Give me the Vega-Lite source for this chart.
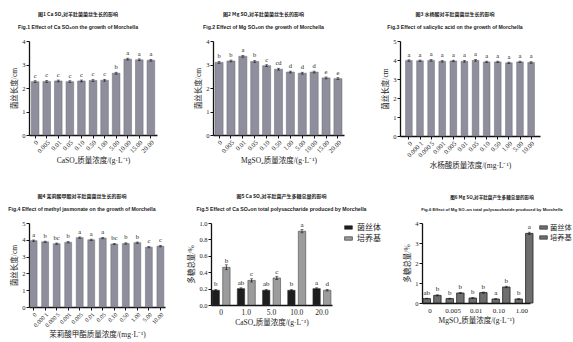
{
  "$schema": "https://vega.github.io/schema/vega-lite/v6.json",
  "background": "white",
  "padding": {"left": 8, "top": 11, "right": 0, "bottom": 0},
  "config": {
    "view": {"stroke": null},
    "font": "Liberation Serif, Noto Sans CJK SC",
    "axis": {
      "grid": false, "domainColor": "#111", "domainWidth": 1.3, "tickColor": "#111", "tickSize": 3, "tickWidth": 1,
      "labelFont": "Liberation Serif, Noto Sans CJK SC", "labelFontSize": 6.5, "labelColor": "#222", "labelPadding": 1,
      "titleFont": "Liberation Serif, Noto Sans CJK SC", "titleFontSize": 7.5, "titleFontWeight": "normal", "titleColor": "#222", "titlePadding": 3
    },
    "axisX": {"labelAngle": -45},
    "title": {"font": "Noto Sans CJK SC", "fontSize": 5, "fontWeight": "bold", "color": "#222", "subtitleFont": "Liberation Sans, Noto Sans CJK SC", "subtitleFontSize": 5.2, "subtitleFontWeight": "bold", "subtitleColor": "#222", "subtitlePadding": 8, "offset": 8, "anchor": "middle", "dx": -15},
    "legend": {"title": null, "labelFont": "Liberation Serif, Noto Sans CJK SC", "labelFontSize": 8, "labelColor": "#222", "symbolType": "M-1,-0.45H1V0.45H-1Z", "symbolSize": 60, "symbolStrokeColor": "#222", "symbolStrokeWidth": 0.6, "rowPadding": 2, "offset": 12, "padding": 0}
  },
  "spacing": 24,
  "vconcat": [
    {
      "spacing": 37,
      "hconcat": [
        {
          "width": 128, "height": 94,
          "title": {"text": "图1 Ca SO₄对羊肚菌菌丝生长的影响", "subtitle": "Fig.1 Effect of Ca SO₄on the growth of Morchella"},
          "data": {"values": [
            {"c": "0", "v": 2.27, "e": 0.04, "l": "c"},
            {"c": "0.005", "v": 2.28, "e": 0.04, "l": "c"},
            {"c": "0.01", "v": 2.3, "e": 0.04, "l": "c"},
            {"c": "0.05", "v": 2.27, "e": 0.04, "l": "c"},
            {"c": "0.10", "v": 2.3, "e": 0.04, "l": "c"},
            {"c": "0.50", "v": 2.32, "e": 0.04, "l": "c"},
            {"c": "1.00", "v": 2.33, "e": 0.04, "l": "c"},
            {"c": "5.00", "v": 2.63, "e": 0.04, "l": "b"},
            {"c": "10.00", "v": 3.23, "e": 0.04, "l": "a"},
            {"c": "15.00", "v": 3.2, "e": 0.04, "l": "a"},
            {"c": "20.00", "v": 3.18, "e": 0.04, "l": "a"}
          ]},
          "encoding": {
            "x": {"field": "c", "type": "ordinal", "sort": null, "title": "CaSO₄质量浓度/(g·L⁻¹)", "scale": {"paddingInner": 0.34, "paddingOuter": 0.2}},
            "y": {"field": "v", "type": "quantitative", "title": "菌丝长度/cm", "scale": {"domain": [0, 4]}, "axis": {"values": [0, 1, 2, 3, 4]}}
          },
          "layer": [
            {"mark": {"type": "bar", "color": "#8e8e9c", "stroke": "#6b6b78", "strokeWidth": 0.5}},
            {"mark": {"type": "errorbar", "ticks": {"size": 3}, "color": "#111", "thickness": 0.7}, "encoding": {"yError": {"field": "e"}}},
            {"mark": {"type": "text", "dy": -6, "fontSize": 6.5, "color": "#222"}, "encoding": {"text": {"field": "l"}}}
          ]
        },
        {
          "width": 131, "height": 94,
          "title": {"text": "图2 Mg SO₄对羊肚菌菌丝生长的影响", "subtitle": "Fig.2 Effect of Mg SO₄on the growth of Morchella"},
          "data": {"values": [
            {"c": "0", "v": 3.09, "e": 0.04, "l": "b"},
            {"c": "0.005", "v": 3.15, "e": 0.04, "l": "b"},
            {"c": "0.01", "v": 3.35, "e": 0.04, "l": "a"},
            {"c": "0.05", "v": 3.13, "e": 0.04, "l": "b"},
            {"c": "0.10", "v": 2.95, "e": 0.04, "l": "c"},
            {"c": "0.50", "v": 2.8, "e": 0.04, "l": "cd"},
            {"c": "1.00", "v": 2.68, "e": 0.04, "l": "d"},
            {"c": "5.00", "v": 2.63, "e": 0.04, "l": "d"},
            {"c": "10.00", "v": 2.68, "e": 0.04, "l": "d"},
            {"c": "15.00", "v": 2.43, "e": 0.04, "l": "e"},
            {"c": "20.00", "v": 2.4, "e": 0.04, "l": "e"}
          ]},
          "encoding": {
            "x": {"field": "c", "type": "ordinal", "sort": null, "title": "MgSO₄质量浓度/(g·L⁻¹)", "scale": {"paddingInner": 0.32, "paddingOuter": 0.17}},
            "y": {"field": "v", "type": "quantitative", "title": "菌丝长度/cm", "scale": {"domain": [0, 4]}, "axis": {"values": [0, 1, 2, 3, 4]}}
          },
          "layer": [
            {"mark": {"type": "bar", "color": "#8e8e9c", "stroke": "#6b6b78", "strokeWidth": 0.5}},
            {"mark": {"type": "errorbar", "ticks": {"size": 3}, "color": "#111", "thickness": 0.7}, "encoding": {"yError": {"field": "e"}}},
            {"mark": {"type": "text", "dy": -6, "fontSize": 6.5, "color": "#222"}, "encoding": {"text": {"field": "l"}}}
          ]
        },
        {
          "width": 140, "height": 95,
          "title": {"text": "图3 水杨酸对羊肚菌菌丝生长的影响", "subtitle": "Fig.3 Effect of salicylic acid on the growth of Morchella"},
          "data": {"values": [
            {"c": "0", "v": 3.97, "e": 0.04, "l": "a"},
            {"c": "0.000 1", "v": 3.96, "e": 0.04, "l": "a"},
            {"c": "0.000 5", "v": 3.98, "e": 0.04, "l": "a"},
            {"c": "0.001", "v": 3.93, "e": 0.04, "l": "a"},
            {"c": "0.005", "v": 3.95, "e": 0.04, "l": "a"},
            {"c": "0.01", "v": 3.93, "e": 0.04, "l": "a"},
            {"c": "0.05", "v": 3.98, "e": 0.04, "l": "a"},
            {"c": "0.10", "v": 3.9, "e": 0.04, "l": "a"},
            {"c": "0.50", "v": 3.9, "e": 0.04, "l": "a"},
            {"c": "1.00", "v": 3.85, "e": 0.04, "l": "a"},
            {"c": "5.00", "v": 3.9, "e": 0.04, "l": "a"},
            {"c": "10.00", "v": 3.87, "e": 0.04, "l": "a"}
          ]},
          "encoding": {
            "x": {"field": "c", "type": "ordinal", "sort": null, "title": "水杨酸质量浓度/(mg·L⁻¹)", "scale": {"paddingInner": 0.4, "paddingOuter": 0.5}},
            "y": {"field": "v", "type": "quantitative", "title": "菌丝长度/cm", "scale": {"domain": [0, 5]}, "axis": {"values": [0, 1, 2, 3, 4, 5]}}
          },
          "layer": [
            {"mark": {"type": "bar", "color": "#8e8e9c", "stroke": "#6b6b78", "strokeWidth": 0.5}},
            {"mark": {"type": "errorbar", "ticks": {"size": 3}, "color": "#111", "thickness": 0.7}, "encoding": {"yError": {"field": "e"}}},
            {"mark": {"type": "text", "dy": -6, "fontSize": 6.5, "color": "#222"}, "encoding": {"text": {"field": "l"}}}
          ]
        }
      ]
    },
    {
      "spacing": 22,
      "hconcat": [
        {
          "width": 136, "height": 84,
          "title": {"text": "图4 茉莉酸甲酯对羊肚菌菌丝生长的影响", "subtitle": "Fig.4 Effect of methyl jasmonate on the growth of Morchella"},
          "data": {"values": [
            {"c": "0", "v": 3.95, "e": 0.04, "l": "a"},
            {"c": "0.000 1", "v": 3.88, "e": 0.04, "l": "b"},
            {"c": "0.000 5", "v": 3.77, "e": 0.04, "l": "bc"},
            {"c": "0.001", "v": 3.85, "e": 0.04, "l": "b"},
            {"c": "0.005", "v": 4.13, "e": 0.04, "l": "a"},
            {"c": "0.01", "v": 4.0, "e": 0.04, "l": "a"},
            {"c": "0.05", "v": 4.1, "e": 0.04, "l": "a"},
            {"c": "0.10", "v": 3.75, "e": 0.04, "l": "bc"},
            {"c": "0.50", "v": 3.78, "e": 0.04, "l": "b"},
            {"c": "1.00", "v": 3.83, "e": 0.04, "l": "b"},
            {"c": "5.00", "v": 3.56, "e": 0.04, "l": "c"},
            {"c": "10.00", "v": 3.62, "e": 0.04, "l": "c"}
          ]},
          "encoding": {
            "x": {"field": "c", "type": "ordinal", "sort": null, "title": "茉莉酸甲酯质量浓度/(mg·L⁻¹)", "axis": {"labelFontSize": 6}, "scale": {"paddingInner": 0.4, "paddingOuter": 0.1}},
            "y": {"field": "v", "type": "quantitative", "title": "菌丝长度/cm", "scale": {"domain": [0, 5]}, "axis": {"values": [0, 1, 2, 3, 4, 5]}}
          },
          "layer": [
            {"mark": {"type": "bar", "color": "#8e8e9c", "stroke": "#6b6b78", "strokeWidth": 0.5}},
            {"mark": {"type": "errorbar", "ticks": {"size": 3}, "color": "#111", "thickness": 0.7}, "encoding": {"yError": {"field": "e"}}},
            {"mark": {"type": "text", "dy": -6, "fontSize": 6.5, "color": "#222"}, "encoding": {"text": {"field": "l"}}}
          ]
        },
        {
          "width": 121, "height": 82,
          "title": {"text": "图5 Ca SO₄对羊肚菌产生多糖总量的影响", "subtitle": "Fig.5 Effect of Ca SO₄on total polysaccharide produced by Morchella", "dx": 10},
          "data": {"values": [
            {"c": "0", "s": "菌丝体", "v": 0.18, "e": 0.01, "l": "b"},
            {"c": "0", "s": "培养基", "v": 0.46, "e": 0.03, "l": "b"},
            {"c": "1.0", "s": "菌丝体", "v": 0.2, "e": 0.01, "l": "ab"},
            {"c": "1.0", "s": "培养基", "v": 0.3, "e": 0.02, "l": "c"},
            {"c": "5.0", "s": "菌丝体", "v": 0.18, "e": 0.01, "l": "ab"},
            {"c": "5.0", "s": "培养基", "v": 0.33, "e": 0.02, "l": "c"},
            {"c": "10.0", "s": "菌丝体", "v": 0.18, "e": 0.01, "l": "b"},
            {"c": "10.0", "s": "培养基", "v": 0.9, "e": 0.02, "l": "a"},
            {"c": "20.0", "s": "菌丝体", "v": 0.2, "e": 0.01, "l": "a"},
            {"c": "20.0", "s": "培养基", "v": 0.18, "e": 0.01, "l": "d"}
          ]},
          "encoding": {
            "x": {"field": "c", "type": "ordinal", "sort": null, "title": "CaSO₄质量浓度/(g·L⁻¹)", "axis": {"labelAngle": 0, "labelFontSize": 7.5, "ticks": false, "labelPadding": 3}, "scale": {"paddingInner": 0.2, "paddingOuter": 0}},
            "xOffset": {"field": "s", "type": "nominal", "sort": ["菌丝体", "培养基"], "scale": {"paddingInner": 0.3, "paddingOuter": 0.1}},
            "y": {"field": "v", "type": "quantitative", "title": "多糖总量/%", "scale": {"domain": [0, 1]}, "axis": {"values": [0, 0.2, 0.4, 0.6, 0.8, 1.0], "format": ".1f"}}
          },
          "layer": [
            {"mark": {"type": "bar", "stroke": "#333", "strokeWidth": 0.5}, "encoding": {"color": {"field": "s", "type": "nominal", "sort": ["菌丝体", "培养基"], "scale": {"domain": ["菌丝体", "培养基"], "range": ["#1e1e1e", "#9c9c9c"]}, "legend": {"offset": 12}}}},
            {"mark": {"type": "errorbar", "ticks": {"size": 3}, "color": "#111", "thickness": 0.7}, "encoding": {"yError": {"field": "e"}}},
            {"mark": {"type": "text", "dy": -6, "fontSize": 7, "color": "#222"}, "encoding": {"text": {"field": "l"}}}
          ]
        },
        {
          "width": 108, "height": 80,
          "title": {"text": "图6 Mg SO₄对羊肚菌产生多糖总量的影响", "subtitle": "Fig.6 Effect of Mg SO₄on total polysaccharide produced by Morchella", "dx": 16, "fontSize": 4.6, "subtitleFontSize": 4.3},
          "data": {"values": [
            {"c": "0", "s": "菌丝体", "v": 0.22, "e": 0.02, "l": "ab"},
            {"c": "0", "s": "培养基", "v": 0.38, "e": 0.03, "l": "b"},
            {"c": "0.005", "s": "菌丝体", "v": 0.22, "e": 0.02, "l": "b"},
            {"c": "0.005", "s": "培养基", "v": 0.5, "e": 0.03, "l": "b"},
            {"c": "0.01", "s": "菌丝体", "v": 0.25, "e": 0.02, "l": "b"},
            {"c": "0.01", "s": "培养基", "v": 0.52, "e": 0.03, "l": "b"},
            {"c": "0.10", "s": "菌丝体", "v": 0.2, "e": 0.02, "l": "a"},
            {"c": "0.10", "s": "培养基", "v": 0.8, "e": 0.04, "l": "b"},
            {"c": "1.00", "s": "菌丝体", "v": 0.2, "e": 0.02, "l": "b"},
            {"c": "1.00", "s": "培养基", "v": 3.48, "e": 0.06, "l": "a"}
          ]},
          "encoding": {
            "x": {"field": "c", "type": "ordinal", "sort": null, "title": "MgSO₄质量浓度/(g·L⁻¹)", "axis": {"labelAngle": 0, "labelFontSize": 7, "ticks": false, "labelPadding": 3}, "scale": {"paddingInner": 0.3, "paddingOuter": 0}},
            "xOffset": {"field": "s", "type": "nominal", "sort": ["菌丝体", "培养基"], "scale": {"paddingInner": 0.3, "paddingOuter": 0.1}},
            "y": {"field": "v", "type": "quantitative", "title": "多糖总量/%", "scale": {"domain": [0, 4]}, "axis": {"values": [0, 1, 2, 3, 4]}}
          },
          "layer": [
            {"mark": {"type": "bar", "stroke": "#222", "strokeWidth": 0.8}, "encoding": {"color": {"field": "s", "type": "nominal", "sort": ["菌丝体", "培养基"], "scale": {"domain": ["菌丝体", "培养基"], "range": ["#6e6e6e", "#6e6e6e"]}, "legend": {"offset": 9, "labelFontSize": 7.3, "labelOffset": 2}}}},
            {"mark": {"type": "errorbar", "ticks": {"size": 3}, "color": "#111", "thickness": 0.7}, "encoding": {"yError": {"field": "e"}}},
            {"mark": {"type": "text", "dy": -6, "fontSize": 7, "color": "#222"}, "encoding": {"text": {"field": "l"}}}
          ],
          "resolve": {"scale": {"color": "independent"}}
        }
      ],
      "resolve": {"scale": {"color": "independent"}}
    }
  ],
  "resolve": {"scale": {"color": "independent"}}
}
